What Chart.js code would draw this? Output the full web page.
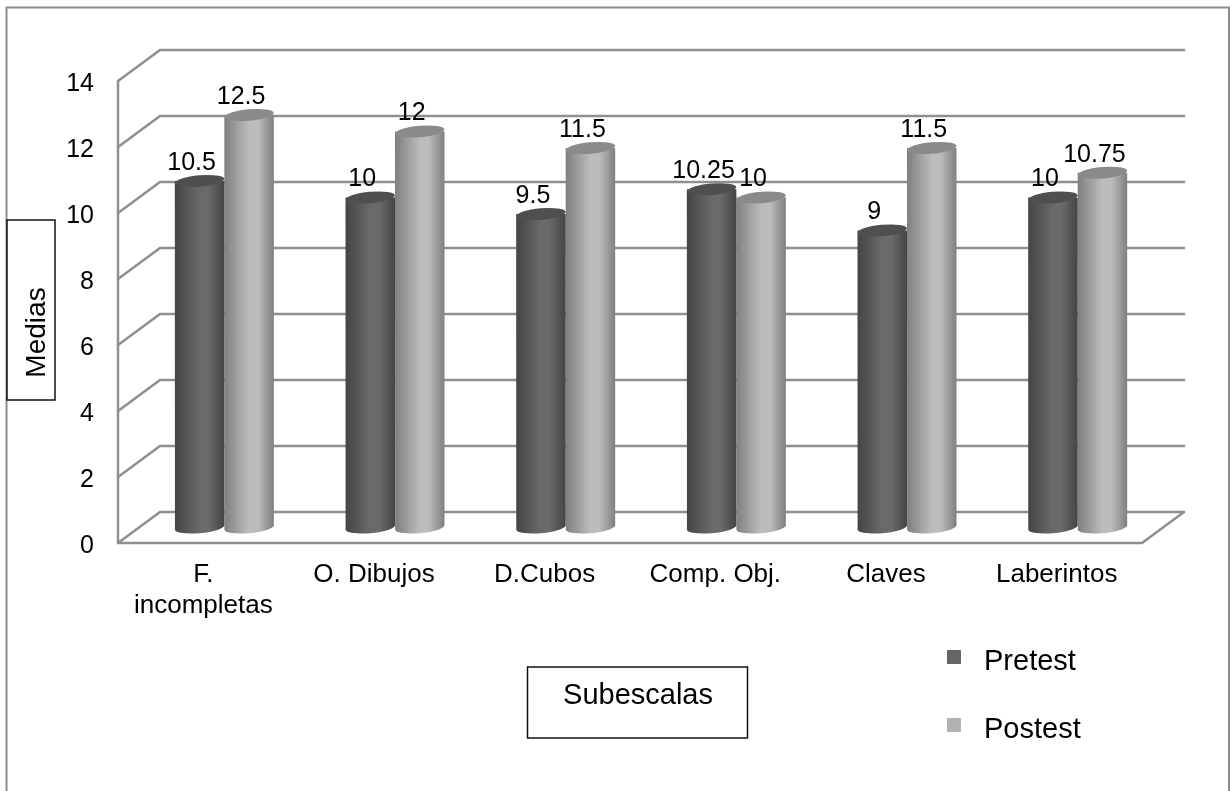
<!DOCTYPE html>
<html>
<head>
<meta charset="utf-8">
<title>Medias por subescala</title>
<script src="https://cdn.jsdelivr.net/npm/chart.js@4/dist/chart.umd.js"></script>
<style>
    html, body { margin: 0; padding: 0; background: #fff; overflow: hidden; }
    canvas { display: block; }
</style>
</head>
<body>
<canvas id="chart" width="1230" height="791"></canvas>
<script>
const categories = [['F.', 'incompletas'], 'O. Dibujos', 'D.Cubos', 'Comp. Obj.', 'Claves', 'Laberintos'];
const pretest = [10.5, 10, 9.5, 10.25, 9, 10];
const postest = [12.5, 12, 11.5, 10, 11.5, 10.75];
const yTicks = [0, 2, 4, 6, 8, 10, 12, 14];

const FONT = '"Liberation Sans", Arial, sans-serif';
const GRID = '#8f8f8f';

// depth of the fake 3D box, the bars stand half way in
const DEPTH_X = 42;
const DEPTH_Y = 31;

const shades = {
    '#666666': { edge: '#444444', mid: '#6a6a6a', cap: '#4f4f4f' },
    '#b2b2b2': { edge: '#7f7f7f', mid: '#bcbcbc', cap: '#8a8a8a' }
};

// every bar element paints itself as a cylinder
Chart.BarElement.prototype.draw = function (ctx) {
    const { x, y, base, width } = this.getProps(['x', 'y', 'base', 'width']);
    const color = shades[this.options.backgroundColor];
    const cx = x + DEPTH_X / 2;
    const top = y - DEPTH_Y / 2;
    const bottom = base - DEPTH_Y / 2;
    const rx = width / 2;
    const ry = 5.7;
    const tilt = -0.09;

    const grad = ctx.createLinearGradient(cx - rx, 0, cx + rx, 0);
    grad.addColorStop(0, color.edge);
    grad.addColorStop(0.5, color.mid);
    grad.addColorStop(0.68, color.mid);
    grad.addColorStop(1, color.edge);

    ctx.save();
    ctx.fillStyle = grad;
    ctx.beginPath();
    ctx.moveTo(cx - rx, top);
    ctx.lineTo(cx + rx, top);
    ctx.lineTo(cx + rx, bottom);
    ctx.ellipse(cx, bottom, rx, ry, tilt, 0, Math.PI);
    ctx.closePath();
    ctx.fill();

    ctx.fillStyle = color.cap;
    ctx.beginPath();
    ctx.ellipse(cx, top, rx, ry, tilt, 0, Math.PI * 2);
    ctx.fill();
    ctx.restore();
};

const boxWalls = {
    id: 'boxWalls',
    beforeDatasetsDraw(chart) {
        const { ctx, chartArea: area, scales } = chart;
        const y = scales.y;
        ctx.save();
        ctx.strokeStyle = GRID;
        ctx.lineWidth = 2.5;
        ctx.lineCap = 'round';
        ctx.lineJoin = 'round';
        yTicks.forEach(v => {
            const py = y.getPixelForValue(v);
            ctx.beginPath();
            ctx.moveTo(area.left, py);
            ctx.lineTo(area.left + DEPTH_X, py - DEPTH_Y);
            ctx.lineTo(area.right + DEPTH_X, py - DEPTH_Y);
            ctx.stroke();
        });
        ctx.beginPath();
        ctx.moveTo(area.left, area.top);
        ctx.lineTo(area.left, area.bottom);
        ctx.lineTo(area.right, area.bottom);
        ctx.lineTo(area.right + DEPTH_X, area.bottom - DEPTH_Y);
        ctx.stroke();
        ctx.restore();
    }
};

const valueLabels = {
    id: 'valueLabels',
    afterDatasetsDraw(chart) {
        const { ctx } = chart;
        ctx.save();
        ctx.font = '25px ' + FONT;
        ctx.fillStyle = '#000';
        ctx.textAlign = 'center';
        ctx.textBaseline = 'middle';
        chart.data.datasets.forEach((ds, i) => {
            chart.getDatasetMeta(i).data.forEach((bar, j) => {
                ctx.fillText(String(ds.data[j]), bar.x + DEPTH_X / 2 - 8, bar.y - DEPTH_Y / 2 - 18);
            });
        });
        ctx.restore();
    }
};

// outer frame, axis title boxes and the legend
const decorations = {
    id: 'decorations',
    afterDraw(chart) {
        const { ctx } = chart;
        ctx.save();

        ctx.strokeStyle = '#8c8c8c';
        ctx.lineWidth = 2;
        ctx.beginPath();
        ctx.moveTo(6.5, 791);
        ctx.lineTo(6.5, 7.5);
        ctx.lineTo(1229, 7.5);
        ctx.lineTo(1229, 791);
        ctx.stroke();

        ctx.fillStyle = '#fff';
        ctx.strokeStyle = '#111';
        ctx.lineWidth = 1.5;
        ctx.fillRect(7, 220, 48, 180);
        ctx.strokeRect(7, 220, 48, 180);
        ctx.fillRect(527.5, 667, 220, 71);
        ctx.strokeRect(527.5, 667, 220, 71);

        ctx.fillStyle = '#000';
        ctx.textBaseline = 'middle';
        ctx.textAlign = 'center';
        ctx.font = '29px ' + FONT;
        ctx.fillText('Subescalas', 638, 696);

        ctx.save();
        ctx.translate(45, 332.5);
        ctx.rotate(-Math.PI / 2);
        ctx.textBaseline = 'alphabetic';
        ctx.font = '28px ' + FONT;
        ctx.fillText('Medias', 0, 0);
        ctx.restore();

        // legend swatches and names come from the datasets
        ctx.textAlign = 'left';
        ctx.textBaseline = 'alphabetic';
        ctx.font = '29px ' + FONT;
        chart.data.datasets.forEach((ds, i) => {
            const rowY = 650 + i * 68;
            ctx.fillStyle = ds.backgroundColor;
            ctx.fillRect(947, rowY, 14, 14);
            ctx.fillStyle = '#000';
            ctx.fillText(ds.label, 984, rowY + 19.5);
        });

        ctx.restore();
    }
};

new Chart(document.getElementById('chart').getContext('2d'), {
    type: 'bar',
    data: {
        labels: categories,
        datasets: [
            { label: 'Pretest', data: pretest, backgroundColor: '#666666', barThickness: 49.5 },
            { label: 'Postest', data: postest, backgroundColor: '#b2b2b2', barThickness: 49.5 }
        ]
    },
    options: {
        responsive: false,
        animation: false,
        layout: { padding: { top: 81, right: 88, left: 0, bottom: 0 } },
        scales: {
            x: {
                grid: { display: false },
                border: { display: false },
                ticks: {
                    color: '#000',
                    font: { family: FONT, size: 26 },
                    padding: 8,
                    maxRotation: 0,
                    autoSkip: false
                },
                afterFit(scale) { scale.height = 248; }
            },
            y: {
                min: 0,
                max: 14,
                grid: { display: false },
                border: { display: false },
                ticks: {
                    color: '#000',
                    font: { family: FONT, size: 25 },
                    padding: 16,
                    labelOffset: 3.5,
                    stepSize: 2
                },
                afterFit(scale) { scale.width = 118; }
            }
        },
        plugins: {
            legend: { display: false },
            tooltip: { enabled: false }
        }
    },
    plugins: [boxWalls, valueLabels, decorations]
});
</script>
</body>
</html>
